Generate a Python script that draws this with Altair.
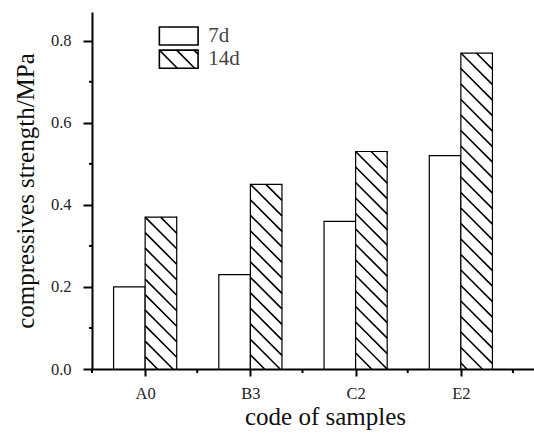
import altair as alt
import pandas as pd
import numpy as np

# ---- data ----
categories = ["A0", "B3", "C2", "E2"]
series_names = ["7d", "14d"]
values_7d = [0.20, 0.23, 0.36, 0.52]
values_14d = [0.37, 0.45, 0.53, 0.77]
y_ticks = [0.0, 0.2, 0.4, 0.6, 0.8]
y_minor = [0.1, 0.3, 0.5, 0.7]

FONT = "Liberation Serif"
W, H = 442, 357
X_DOM = [0, 4.2]
Y_DOM = [0, 0.87]
PX_X = W / (X_DOM[1] - X_DOM[0])
PX_Y = H / (Y_DOM[1] - Y_DOM[0])
CENTER = 0.505
BAR_W = 0.3
HATCH_SP = 15.5  # px between hatch lines (horizontal)

# bars
rows = []
for i, c in enumerate(categories):
    rows.append(dict(cat=c, series="7d", x0=i + CENTER - BAR_W, x1=i + CENTER, v=values_7d[i], b=0))
    rows.append(dict(cat=c, series="14d", x0=i + CENTER, x1=i + CENTER + BAR_W, v=values_14d[i], b=0))
bars_df = pd.DataFrame(rows)


def hatch(x0, x1, ytop, ybot, sp):
    w = (x1 - x0) * PX_X
    h = (ytop - ybot) * PX_Y
    segs = []
    cs = []
    c = 0.0
    while c < w:
        cs.append(c)
        c += sp
    c = -sp
    while c > -h:
        cs.append(c)
        c -= sp
    for c in cs:
        t0 = max(0.0, -c)
        t1 = min(h, w - c)
        if t1 - t0 < 0.5:
            continue
        segs.append(dict(hx=x0 + (c + t0) / PX_X, hy=ytop - t0 / PX_Y,
                         hx2=x0 + (c + t1) / PX_X, hy2=ytop - t1 / PX_Y))
    return segs


hatch_rows = []
for r in rows:
    if r["series"] == "14d":
        hatch_rows += hatch(r["x0"], r["x1"], r["v"], 0.0, HATCH_SP)

# legend (placed in data coordinates)
LEG_X0, LEG_X1 = 0.640, 1.008
leg_boxes = pd.DataFrame([
    dict(series="7d", x0=LEG_X0, x1=LEG_X1, y0=0.7895, y1=0.8333, ty=0.8114),
    dict(series="14d", x0=LEG_X0, x1=LEG_X1, y0=0.733, y1=0.777, ty=0.7546),
])
leg_hatch = hatch(LEG_X0, LEG_X1, 0.777, 0.733, 17.3)
hatch_df = pd.DataFrame(hatch_rows + leg_hatch)

xs = alt.Scale(domain=X_DOM, nice=False, zero=False)
ys = alt.Scale(domain=Y_DOM, nice=False)

label_expr = "[" + ",".join("'%s'" % c for c in categories) + "][floor(datum.value)]"

common = dict(domainColor="black", domainWidth=2, tickColor="black", tickWidth=2,
              grid=False, labelFont=FONT, labelFontSize=16.5, labelColor="#222",
              titleFont=FONT, titleFontSize=25, titleFontWeight="normal", titleColor="#111")

x_axis = alt.Axis(
    values=[i + CENTER for i in range(len(categories))],
    labelExpr=label_expr, title="code of samples",
    tickSize=7, labelBaseline="alphabetic", labelPadding=22,
    titleX=233, titleY=55, titleAlign="center", titleBaseline="alphabetic", **common)
y_axis = alt.Axis(
    values=y_ticks, format=".1f", title="compressives strength/MPa",
    tickSize=9, labelPadding=12, labelBaseline="middle",
    titleAngle=270, titleX=-59, titleY=H / 2, titleAlign="center",
    titleBaseline="alphabetic", **common)

bars = alt.Chart(bars_df).mark_rect(fill="white", stroke="black", strokeWidth=1.2).encode(
    x=alt.X("x0:Q", scale=xs, axis=x_axis),
    x2="x1:Q",
    y=alt.Y("v:Q", scale=ys, axis=y_axis),
    y2="b:Q",
)

hatch_layer = alt.Chart(hatch_df).mark_rule(color="black", strokeWidth=1.6).encode(
    x=alt.X("hx:Q", scale=xs, axis=x_axis), y=alt.Y("hy:Q", scale=ys, axis=y_axis),
    x2="hx2:Q", y2="hy2:Q",
)

y_minor_df = pd.DataFrame(dict(v=y_minor))
y_minor_layer = alt.Chart(y_minor_df).mark_rule(color="black", strokeWidth=2).encode(
    y=alt.Y("v:Q", scale=ys, axis=y_axis), x=alt.value(-3), x2=alt.value(0),
)

x_minor_df = pd.DataFrame(dict(b=list(range(len(categories) + 1))))
x_minor_layer = alt.Chart(x_minor_df).mark_rule(color="black", strokeWidth=2).encode(
    x=alt.X("b:Q", scale=xs, axis=x_axis), y=alt.value(H), y2=alt.value(H + 4),
)

leg_rect = alt.Chart(leg_boxes).mark_rect(fill="white", stroke="black", strokeWidth=1.6).encode(
    x=alt.X("x0:Q", scale=xs, axis=x_axis), x2="x1:Q",
    y=alt.Y("y0:Q", scale=ys, axis=y_axis), y2="y1:Q",
)
leg_text = alt.Chart(leg_boxes).mark_text(
    align="left", baseline="middle", font=FONT, fontSize=21, color="#444"
).encode(
    x=alt.value(1.105 * PX_X),
    y=alt.Y("ty:Q", scale=ys, axis=y_axis),
    text="series:N",
)

chart = alt.layer(
    bars, leg_rect, hatch_layer, y_minor_layer, x_minor_layer, leg_text
).properties(
    width=W, height=H,
    padding={"left": 92, "top": 12, "right": 0, "bottom": 65},
    autosize=alt.AutoSizeParams(type="none"),
    background="white",
).configure_view(stroke=None).configure_axis(**common)

chart.save("out.html", embed_options={"renderer": "svg", "actions": False})
